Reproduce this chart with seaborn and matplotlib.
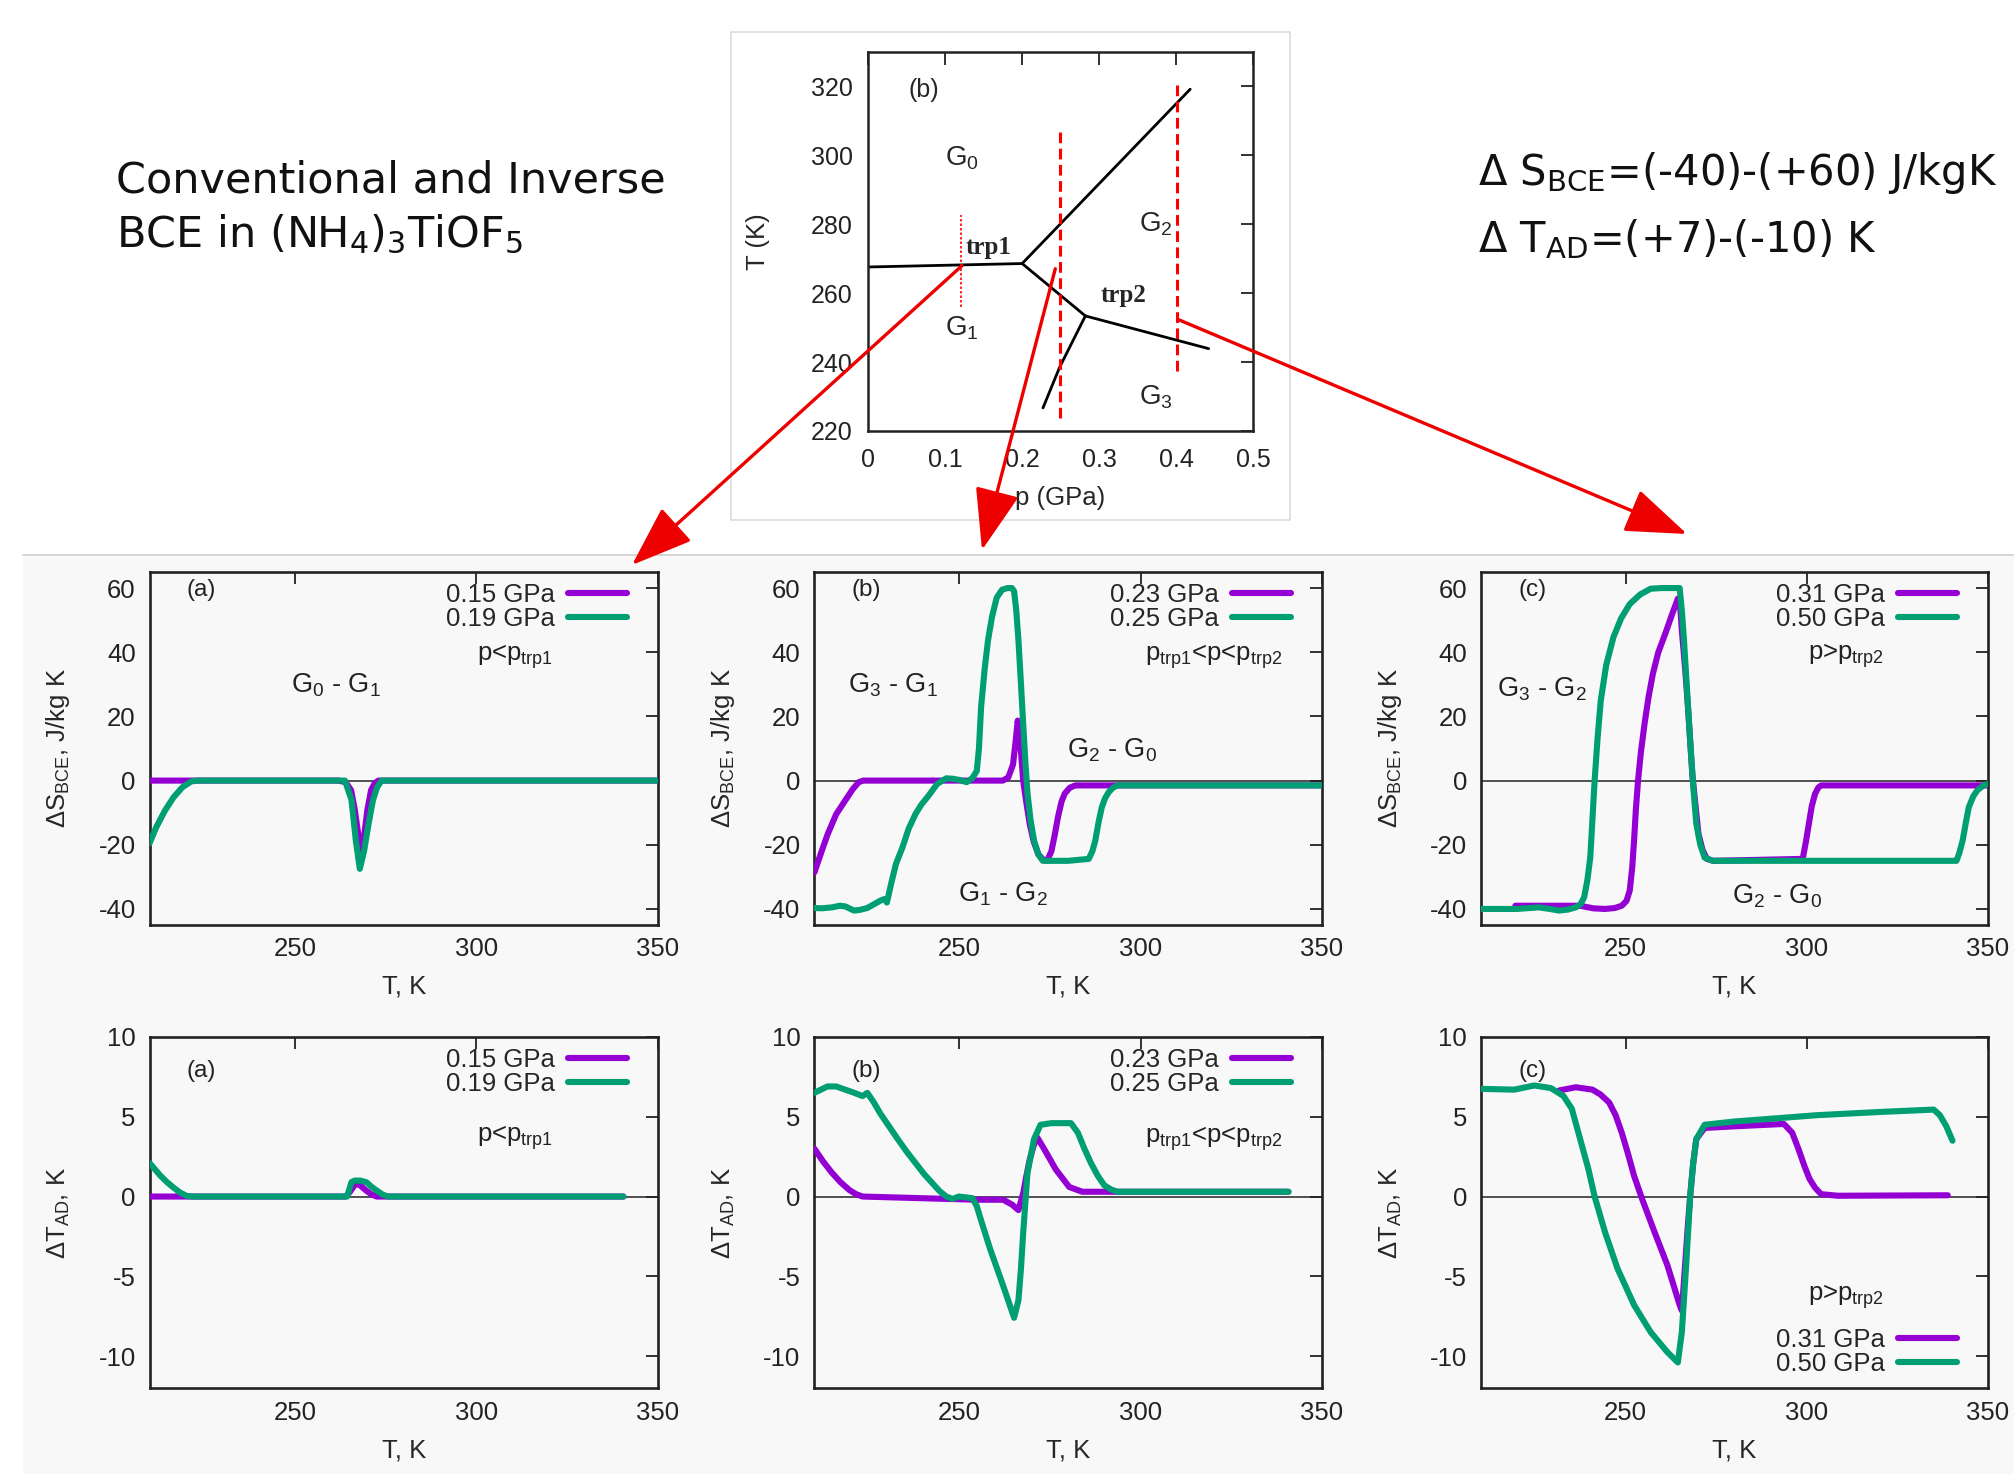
import matplotlib
matplotlib.use("Agg")
import matplotlib.pyplot as plt
from matplotlib.patches import Rectangle, ConnectionPatch
from matplotlib.lines import Line2D
import seaborn as sns

# ---------------- data ----------------
# phase diagram (p in GPa, T in K)
p_g0g1 = [0.0, 0.2]
T_g0g1 = [267.6, 268.6]
p_g0g2 = [0.2, 0.418]
T_g0g2 = [268.6, 319.2]
p_g1g2 = [0.2, 0.282]
T_g1g2 = [268.6, 253.4]
p_g2g3 = [0.282, 0.442]
T_g2g3 = [253.4, 243.9]
p_g1g3 = [0.282, 0.2486, 0.227]
T_g1g3 = [253.4, 238.5, 226.7]
p_cuts = [0.121, 0.2486, 0.4004]
T_cut_lo = [256.0, 223.9, 237.3]
T_cut_hi = [282.6, 307.0, 320.4]
arrow_p = [0.122, 0.243, 0.403]
arrow_T = [268.0, 267.1, 252.3]

# (a) 0.15 / 0.19 GPa
T_s015 = [210, 262, 264, 265.5, 266.5, 267.5, 268.2, 269, 270, 271, 272, 273, 350]
dS_015 = [0, 0, -0.5, -3, -9, -17, -22, -18, -9, -3, -0.8, 0, 0]
T_s019 = [210, 211.8, 214.2, 216.6, 219, 221.4, 223, 263.8, 265.6, 266.8, 267.9, 269.1, 270.3, 271.5, 272.7, 273.9, 350]
dS_019 = [-19.5, -14.6, -9.4, -5.2, -2.1, -0.3, 0, 0, -6, -18.7, -27.5, -21.8, -13.5, -6.2, -2, 0, 0]
T_t015 = [210, 264, 265.2, 266.7, 268, 269.5, 271, 272.5, 340.5]
dT_015 = [0, 0, 0.3, 0.8, 0.7, 0.4, 0.15, 0, 0]
T_t019 = [210, 211.5, 213, 214.8, 216.6, 218.4, 220.2, 222, 264.4, 265.6, 266.5, 268, 269.7, 271.2, 272.7, 274.2, 275.7, 340.5]
dT_019 = [2.1, 1.7, 1.3, 0.9, 0.56, 0.25, 0.04, 0, 0, 0.9, 1.0, 1.0, 0.9, 0.6, 0.35, 0.12, 0, 0]

# (b) 0.23 / 0.25 GPa
T_s023 = [210, 212, 213.7, 216, 218.5, 220.5, 222.2, 223.5, 262, 263.5, 264.8, 265.5, 266.1, 266.8, 267.6,
          268.5, 269.4, 270.5, 271.8, 273, 274.2, 275.4, 276.3, 277.2, 278.2, 279.1, 280.5, 282, 350]
dS_023 = [-28.6, -22, -16.6, -10.5, -6.2, -2.8, -0.5, 0, 0, 1, 5, 12, 18.7, 12, 0,
          -7, -13.5, -19, -23, -24.5, -25, -22, -17, -11.4, -6.5, -4, -2.2, -1.5, -1.5]
T_s025 = [210, 212, 214.9, 217, 218.5, 220.9, 222.5, 224.6, 226.5, 228.2, 229.4, 230, 231.2, 232.5, 234.3,
          236, 237.9, 239.5, 241.5, 243.9, 246.4, 248, 250, 252, 253.6, 254.8, 255.4, 256, 257, 257.9,
          259, 260.3, 261.8, 263.3, 264.5, 265.1, 265.7, 266.3, 267, 267.6, 268.2, 268.8, 269.6, 270.6,
          271.8, 273, 280, 285.7, 286.7, 287.5, 288.4, 289.3, 290.2, 291.2, 292.4, 293.6, 350]
dS_025 = [-39.7, -39.8, -39.5, -39.0, -39.2, -40.5, -40.3, -39.7, -38.5, -37.4, -36.9, -38, -32, -26, -20.8,
          -15, -10.4, -7.5, -4.7, -1, 0.7, 0.6, 0.2, -0.5, 0.8, 3, 10, 23, 35, 43.7,
          51, 57, 59.5, 60, 60, 59, 53, 43.7, 30, 17.7, 6, -4, -12, -18.7,
          -23, -25, -25, -24.4, -22, -18.7, -13, -8.3, -5.5, -3.6, -2.2, -1.5, -1.5]
T_t023 = [210, 212.4, 214.8, 217.2, 219.7, 221.5, 223.3, 254.8, 262.1, 264.5, 266.3, 267.6, 268.5, 269.4,
          270.5, 271.5, 273.6, 276.6, 280.3, 283.9, 340.8]
dT_023 = [3.0, 2.2, 1.5, 0.9, 0.4, 0.15, 0, -0.2, -0.2, -0.5, -0.85, 0.2, 1.3, 2.3,
          3.2, 3.7, 2.9, 1.7, 0.6, 0.3, 0.3]
T_t025 = [210, 213.6, 216, 218.5, 221, 223.3, 224.6, 226.4, 228.2, 230.6, 233, 235.5, 237.9, 240.3, 242.7,
          244.5, 246.4, 248.1, 249.9, 253.6, 254.8, 256, 258.5, 262.1, 265.1, 266.3, 267, 267.6, 268.8,
          270.6, 272.4, 275.4, 280.8, 282.7, 284.5, 286.3, 288.2, 290, 291.8, 293.6, 340.8]
dT_025 = [6.5, 6.9, 6.9, 6.7, 6.5, 6.3, 6.5, 5.9, 5.2, 4.4, 3.6, 2.8, 2.1, 1.4, 0.8,
          0.35, 0, -0.15, 0, -0.1, -0.6, -1.5, -3.3, -5.6, -7.6, -6.5, -4.5, -2.3, 1.5,
          3.6, 4.5, 4.6, 4.6, 4.0, 3.0, 2.1, 1.3, 0.7, 0.45, 0.3, 0.3]

# (c) 0.31 / 0.50 GPa
T_s031 = [219.5, 230, 237.4, 241, 244.3, 247, 248.9, 250.2, 251.1, 251.8, 252.3, 252.8, 253.4, 254.2, 255.2,
          256.3, 257.5, 259, 260.9, 262.7, 264.4, 265, 265.5, 266.4, 267.2, 268.4, 269.3, 270.1, 271.2,
          272.4, 274.1, 298.9, 299.8, 300.6, 301.4, 302.3, 303.2, 304, 350]
dS_031 = [-39, -39, -39, -39.8, -40, -39.7, -39, -37.5, -34.3, -27, -18.7, -9, 0, 9, 17.7,
          26, 33.3, 40, 45.7, 51.5, 56.7, 55, 46.8, 35, 22.9, 2, -8, -16.6, -21.5,
          -24.4, -25, -24.4, -19, -13.5, -8, -4.2, -2.2, -1.5, -1.5]
T_s050 = [210, 220, 225.9, 229, 231.6, 234, 236.2, 237.5, 238.5, 239.4, 240.2, 240.8, 241.4, 242.2, 243.1,
          244.6, 246.6, 248.7, 251.1, 254, 256.9, 260, 264.9, 265.5, 266.1, 267, 267.8, 268.6, 269.5,
          270.6, 271.8, 274.1, 341.4, 342.2, 343.1, 344, 344.8, 346, 347.1, 348.5, 350]
dS_050 = [-40, -40, -39.5, -40, -40.5, -40.2, -39.5, -38.5, -36.4, -31, -23.9, -12, 0, 13, 25,
          36, 44.7, 50.5, 55, 58, 59.8, 60, 60, 53, 43.7, 27, 12.5, -1, -13.5,
          -20, -24, -25, -25, -22.5, -18.7, -13, -8.3, -5, -3.1, -1.8, -1]
T_t031 = [231.6, 236.2, 240.8, 243, 245.4, 247.2, 248.9, 250.6, 252.3, 254.6, 258, 261.5, 264.9, 265.5,
          266.4, 267.1, 267.8, 268.6, 269.5, 271.8, 279.9, 293.7, 296, 297.7, 299.4, 300.8, 302.3, 304,
          308.6, 339]
dT_031 = [6.65, 6.85, 6.7, 6.4, 5.9, 5.1, 4.0, 2.7, 1.3, -0.2, -2.25, -4.3, -6.8, -7.15,
          -4.3, -2.0, 0, 2.0, 3.6, 4.3, 4.4, 4.55, 4.0, 3.0, 1.9, 1.1, 0.56, 0.15,
          0.05, 0.08]
T_t050 = [210, 219.2, 224.7, 229.3, 232.8, 235.1, 237.4, 239.7, 241.4, 244.3, 247.7, 252.3, 256.9, 261.5,
          264.4, 265.5, 266.7, 267.8, 268.6, 269.5, 271.8, 279.9, 291.4, 302.9, 320.1, 335.1, 336.8,
          338.6, 340.3]
dT_050 = [6.75, 6.7, 6.96, 6.8, 6.3, 5.5, 3.6, 1.7, 0, -2.25, -4.5, -6.8, -8.5, -9.75,
          -10.4, -8.5, -4.3, 0, 2.0, 3.6, 4.5, 4.7, 4.9, 5.1, 5.3, 5.45, 5.1,
          4.4, 3.5]

PURPLE = "#9400d3"
GREEN = "#009e73"

# ---------------- style ----------------
sns.set_style("white")
plt.rcParams['font.family'] = ['Liberation Sans', 'DejaVu Sans']
plt.rcParams['mathtext.fontset'] = 'custom'
plt.rcParams['mathtext.rm'] = 'Liberation Sans'
plt.rcParams['mathtext.it'] = 'Liberation Sans:italic'
plt.rcParams['mathtext.bf'] = 'Liberation Sans:bold'
plt.rcParams['axes.unicode_minus'] = False

FS = 18.5   # panel text size

W, H = 2014, 1474
fig = plt.figure(figsize=(W / 100, H / 100), dpi=100)


def box(x0, y0, x1, y1):
    # pixel box (top-left origin) -> figure fraction rect
    return [x0 / W, 1 - y1 / H, (x1 - x0) / W, (y1 - y0) / H]


# background pieces
fig.add_artist(Rectangle((23 / W, 0), 1 - 23 / W, 1 - 555 / H, transform=fig.transFigure,
                         facecolor="#f8f8f8", edgecolor="none", zorder=-5))
fig.add_artist(Line2D([23 / W, 1], [1 - 555 / H] * 2, transform=fig.transFigure,
                      color="#cfcfcf", lw=1.2, zorder=-4))
fig.add_artist(Rectangle((731 / W, 1 - 520 / H), (1290 - 731) / W, (520 - 32) / H,
                         transform=fig.transFigure, facecolor="white", edgecolor="#dcdcdc",
                         lw=1.2, zorder=-3))

# headline texts
big = dict(family="DejaVu Sans", math_fontfamily="dejavusans", va="baseline", color="#111111")
fig.text(116 / W, 1 - 192.7 / H, "Conventional and Inverse", fontsize=31, **big)
fig.text(116 / W, 1 - 246.7 / H, r"BCE in (NH$_{\mathrm{4}}$)$_{\mathrm{3}}$TiOF$_{\mathrm{5}}$", fontsize=31, **big)
fig.text(1478 / W, 1 - 185 / H, r"Δ S$_{\mathrm{BCE}}$=(-40)-(+60) J/kgK", fontsize=30, **big)
fig.text(1478 / W, 1 - 252 / H, r"Δ T$_{\mathrm{AD}}$=(+7)-(-10) K", fontsize=30, **big)

# ---------------- phase diagram ----------------
ph = fig.add_axes(box(868, 52, 1253.4, 431))
ph.set_facecolor("white")
for pp, tt in [(p_g0g1, T_g0g1), (p_g0g2, T_g0g2), (p_g1g2, T_g1g2), (p_g2g3, T_g2g3), (p_g1g3, T_g1g3)]:
    sns.lineplot(x=pp, y=tt, ax=ph, color="black", lw=2.0, sort=False, estimator=None)
for i, pc in enumerate(p_cuts):
    sns.lineplot(x=[pc, pc], y=[T_cut_lo[i], T_cut_hi[i]], ax=ph, color="red", estimator=None,
                 lw=1.2 if i == 0 else 2.2, linestyle=(0, (1.5, 1.2)) if i == 0 else (0, (3.5, 1.8)))
ph.set_xlim(0, 0.5)
ph.set_ylim(220, 330)
ph.set_xticks([0, 0.1, 0.2, 0.3, 0.4, 0.5])
ph.set_xticklabels(["0", "0.1", "0.2", "0.3", "0.4", "0.5"])
ph.set_yticks([220, 240, 260, 280, 300, 320])
ph.tick_params(direction="in", top=True, right=True, length=9, width=1.3, labelsize=18,
               colors="#222222")
ph.tick_params(axis="x", pad=12)
ph.tick_params(axis="y", pad=11)
for s in ph.spines.values():
    s.set_linewidth(1.8)
    s.set_color("#222222")
ph.set_xlabel("p (GPa)", fontsize=18.5)
ph.set_ylabel("T (K)", fontsize=18.5)
ph.xaxis.set_label_coords(0.498, -0.145)
ph.yaxis.set_label_coords(-0.255, 0.5)
ph.text(0.072, 319, "(b)", fontsize=18, ha="center", va="center")
for lab, x, y in [("0", 0.122, 299.1), ("1", 0.122, 249.7), ("2", 0.373, 279.9), ("3", 0.373, 229.8)]:
    ph.text(x, y, r"G$_{\mathrm{%s}}$" % lab, fontsize=20, ha="center", va="center")
ph.text(0.157, 273.4, "trp1", family="Liberation Serif", weight="bold", fontsize=18, ha="center", va="center")
ph.text(0.331, 259.4, "trp2", family="Liberation Serif", weight="bold", fontsize=18, ha="center", va="center")

tips = [(632, 565), (982, 550), (1687, 534)]
for i in range(3):
    con = ConnectionPatch(xyA=(arrow_p[i], arrow_T[i]), coordsA=ph.transData,
                          xyB=(tips[i][0] / W, 1 - tips[i][1] / H), coordsB=fig.transFigure,
                          arrowstyle="-|>,head_length=0.55,head_width=0.2", mutation_scale=70,
                          color="#ee0000", lw=2.4, shrinkA=0, shrinkB=0, zorder=10)
    fig.add_artist(con)

# ---------------- six panels ----------------
cols = [(149.6, 657.9), (814.4, 1321.8), (1481, 1987.6)]
rows = [(572, 925), (1037, 1388)]

dS_label = r"ΔS$_{\mathrm{BCE}}$, J/kg K"
dT_label = r"ΔT$_{\mathrm{AD}}$, K"

panels = [
    # row, col, curves, tag, note, note xy, phase labels, legend loc
    (0, 0, [(T_s015, dS_015, PURPLE, "0.15 GPa"), (T_s019, dS_019, GREEN, "0.19 GPa")],
     "(a)", r"p<p$_{\mathrm{trp1}}$", (310.7, 38.5),
     [(r"G$_{\mathrm{0}}$ - G$_{\mathrm{1}}$", 261.4, 29.6)], "top"),
    (0, 1, [(T_s023, dS_023, PURPLE, "0.23 GPa"), (T_s025, dS_025, GREEN, "0.25 GPa")],
     "(b)", r"p$_{\mathrm{trp1}}$<p<p$_{\mathrm{trp2}}$", (320.1, 38.5),
     [(r"G$_{\mathrm{3}}$ - G$_{\mathrm{1}}$", 231.8, 29.6),
      (r"G$_{\mathrm{2}}$ - G$_{\mathrm{0}}$", 292.0, 9.4),
      (r"G$_{\mathrm{1}}$ - G$_{\mathrm{2}}$", 262.0, -35.3)], "top"),
    (0, 2, [(T_s031, dS_031, PURPLE, "0.31 GPa"), (T_s050, dS_050, GREEN, "0.50 GPa")],
     "(c)", r"p>p$_{\mathrm{trp2}}$", (310.9, 39.0),
     [(r"G$_{\mathrm{3}}$ - G$_{\mathrm{2}}$", 226.7, 28.6),
      (r"G$_{\mathrm{2}}$ - G$_{\mathrm{0}}$", 291.8, -35.9)], "top"),
    (1, 0, [(T_t015, dT_015, PURPLE, "0.15 GPa"), (T_t019, dT_019, GREEN, "0.19 GPa")],
     "(a)", r"p<p$_{\mathrm{trp1}}$", (310.7, 3.7), [], "top"),
    (1, 1, [(T_t023, dT_023, PURPLE, "0.23 GPa"), (T_t025, dT_025, GREEN, "0.25 GPa")],
     "(b)", r"p$_{\mathrm{trp1}}$<p<p$_{\mathrm{trp2}}$", (320.1, 3.66), [], "top"),
    (1, 2, [(T_t031, dT_031, PURPLE, "0.31 GPa"), (T_t050, dT_050, GREEN, "0.50 GPa")],
     "(c)", r"p>p$_{\mathrm{trp2}}$", (310.9, -6.3), [], "bottom"),
]

for r, c, curves, tag, note, note_xy, phase_labels, legloc in panels:
    ax = fig.add_axes(box(cols[c][0], rows[r][0], cols[c][1], rows[r][1]))
    ax.set_facecolor("#f8f8f8")
    ax.axhline(0, color="#222222", lw=1.1, zorder=1)
    for T, v, col, lab in curves:
        sns.lineplot(x=T, y=v, ax=ax, color=col, lw=4.4, label=lab, sort=False, estimator=None, zorder=3)
    ax.set_xlim(210, 350)
    ax.set_xticks([250, 300, 350])
    if r == 0:
        ax.set_ylim(-45, 65)
        ax.set_yticks([-40, -20, 0, 20, 40, 60])
        ax.set_ylabel(dS_label, fontsize=FS)
        ax.text(224.3, 59.3, tag, fontsize=17.5, ha="center", va="center", color="#222222")
    else:
        ax.set_ylim(-12, 10)
        ax.set_yticks([-10, -5, 0, 5, 10])
        ax.set_ylabel(dT_label, fontsize=FS)
        ax.text(224.3, 7.85, tag, fontsize=17.5, ha="center", va="center", color="#222222")
    ax.set_xlabel("T, K", fontsize=FS)
    ax.yaxis.set_label_coords(-0.152, 0.5)
    ax.xaxis.set_label_coords(0.5, -0.14 if r == 0 else -0.145)
    ax.tick_params(direction="in", top=True, right=True, length=8.5, width=1.3, labelsize=FS,
                   colors="#222222")
    ax.tick_params(axis="x", pad=9)
    ax.tick_params(axis="y", pad=10)
    for s in ax.spines.values():
        s.set_linewidth(1.9)
        s.set_color("#222222")
    ax.text(note_xy[0], note_xy[1], note, fontsize=FS, ha="center", va="center", color="#222222")
    for txt, x, y in phase_labels:
        ax.text(x, y, txt, fontsize=19.5, ha="center", va="center", color="#222222")
    if legloc == "top":
        ax.legend(loc="upper right", bbox_to_anchor=(0.939, 0.968), markerfirst=False, frameon=False,
                  fontsize=FS, handlelength=2.3, handletextpad=0.5, labelspacing=0.0,
                  borderpad=0, borderaxespad=0)
    else:
        ax.legend(loc="lower right", bbox_to_anchor=(0.939, 0.034), markerfirst=False, frameon=False,
                  fontsize=FS, handlelength=2.3, handletextpad=0.5, labelspacing=0.0,
                  borderpad=0, borderaxespad=0)

fig.savefig("out.png", dpi=100, facecolor="white")
